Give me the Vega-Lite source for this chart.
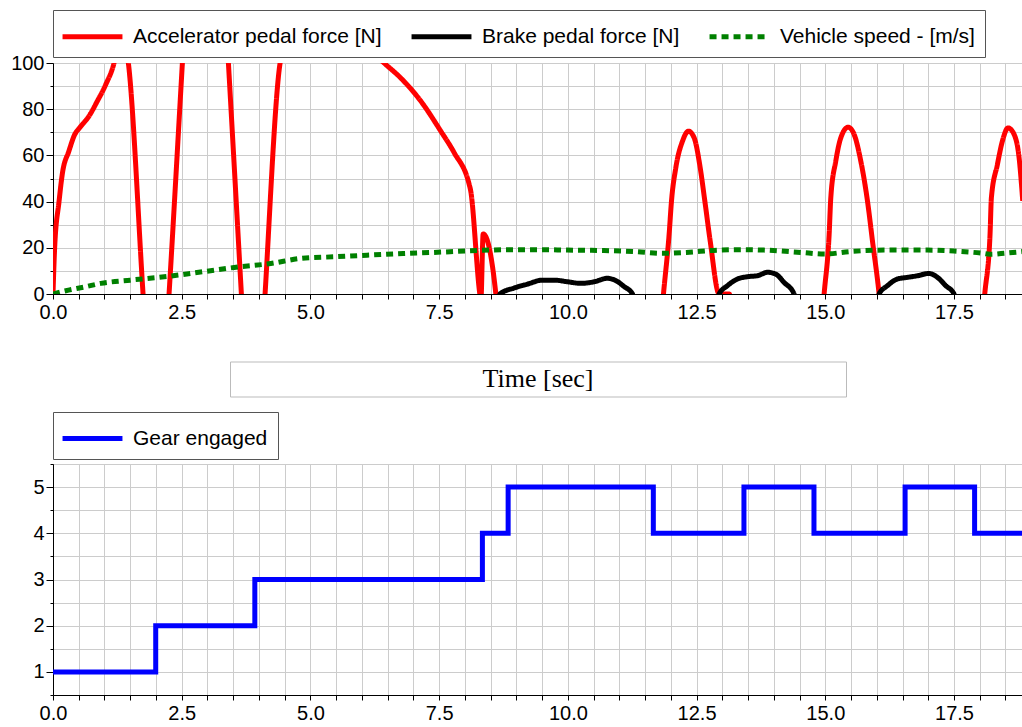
{
  "$schema": "https://vega.github.io/schema/vega-lite/v6.json",
  "autosize": {"type": "pad"},
  "padding": {"left": 10, "top": 9, "right": 0, "bottom": 4},
  "background": "white",
  "bounds": "flush",
  "spacing": 67.5,
  "center": true,
  "config": {
    "font": "Liberation Sans",
    "view": {"stroke": "#222222"},
    "axis": {
      "labelFont": "Liberation Sans",
      "labelFontSize": 20,
      "labelColor": "black",
      "domainColor": "black",
      "tickColor": "black",
      "gridColor": "#cccccc",
      "grid": true,
      "title": null,
      "labelOverlap": false,
      "labelFlush": false
    }
  },
  "resolve": {
    "scale": {"x": "independent", "y": "independent", "color": "independent", "strokeDash": "independent"},
    "legend": {"color": "independent", "strokeDash": "independent"}
  },
  "datasets": {
    "top": [
      {"series": "Accelerator pedal force [N]", "t": 0, "v": 0},
      {"series": "Accelerator pedal force [N]", "t": 0.032, "v": 20},
      {"series": "Accelerator pedal force [N]", "t": 0.117, "v": 40},
      {"series": "Accelerator pedal force [N]", "t": 0.181, "v": 52},
      {"series": "Accelerator pedal force [N]", "t": 0.311, "v": 62},
      {"series": "Accelerator pedal force [N]", "t": 0.421, "v": 69},
      {"series": "Accelerator pedal force [N]", "t": 0.518, "v": 72},
      {"series": "Accelerator pedal force [N]", "t": 0.699, "v": 77},
      {"series": "Accelerator pedal force [N]", "t": 0.861, "v": 83.5},
      {"series": "Accelerator pedal force [N]", "t": 1.023, "v": 90.6},
      {"series": "Accelerator pedal force [N]", "t": 1.185, "v": 100},
      {"series": "Accelerator pedal force [N]", "t": 1.32, "v": 115},
      {"series": "Accelerator pedal force [N]", "t": 1.464, "v": 100},
      {"series": "Accelerator pedal force [N]", "t": 1.749, "v": 0},
      {"series": "Accelerator pedal force [N]", "t": 2.0, "v": -88},
      {"series": "Accelerator pedal force [N]", "t": 2.254, "v": 0},
      {"series": "Accelerator pedal force [N]", "t": 2.513, "v": 100},
      {"series": "Accelerator pedal force [N]", "t": 2.96, "v": 270},
      {"series": "Accelerator pedal force [N]", "t": 3.407, "v": 100},
      {"series": "Accelerator pedal force [N]", "t": 3.659, "v": 0},
      {"series": "Accelerator pedal force [N]", "t": 3.89, "v": -92},
      {"series": "Accelerator pedal force [N]", "t": 4.119, "v": 0},
      {"series": "Accelerator pedal force [N]", "t": 4.411, "v": 100},
      {"series": "Accelerator pedal force [N]", "t": 5.4, "v": 170},
      {"series": "Accelerator pedal force [N]", "t": 6.1, "v": 107},
      {"series": "Accelerator pedal force [N]", "t": 6.431, "v": 100},
      {"series": "Accelerator pedal force [N]", "t": 6.755, "v": 93.5},
      {"series": "Accelerator pedal force [N]", "t": 7.144, "v": 83.5},
      {"series": "Accelerator pedal force [N]", "t": 7.532, "v": 70.5},
      {"series": "Accelerator pedal force [N]", "t": 7.791, "v": 61.2},
      {"series": "Accelerator pedal force [N]", "t": 8.083, "v": 47.5},
      {"series": "Accelerator pedal force [N]", "t": 8.11, "v": 45},
      {"series": "Accelerator pedal force [N]", "t": 8.29, "v": 0},
      {"series": "Accelerator pedal force [N]", "t": 8.31, "v": -3},
      {"series": "Accelerator pedal force [N]", "t": 8.355, "v": 26},
      {"series": "Accelerator pedal force [N]", "t": 8.601, "v": 0},
      {"series": "Accelerator pedal force [N]", "t": 8.7, "v": -40},
      {"series": "Accelerator pedal force [N]", "t": 11.7, "v": -40},
      {"series": "Accelerator pedal force [N]", "t": 11.857, "v": 0},
      {"series": "Accelerator pedal force [N]", "t": 11.967, "v": 25.9},
      {"series": "Accelerator pedal force [N]", "t": 12.013, "v": 40.3},
      {"series": "Accelerator pedal force [N]", "t": 12.097, "v": 54.7},
      {"series": "Accelerator pedal force [N]", "t": 12.227, "v": 66.2},
      {"series": "Accelerator pedal force [N]", "t": 12.343, "v": 70.5},
      {"series": "Accelerator pedal force [N]", "t": 12.453, "v": 67.6},
      {"series": "Accelerator pedal force [N]", "t": 12.57, "v": 54.7},
      {"series": "Accelerator pedal force [N]", "t": 12.66, "v": 40.3},
      {"series": "Accelerator pedal force [N]", "t": 12.764, "v": 23},
      {"series": "Accelerator pedal force [N]", "t": 12.939, "v": 0},
      {"series": "Accelerator pedal force [N]", "t": 13.14, "v": 0},
      {"series": "Accelerator pedal force [N]", "t": 13.2, "v": -30},
      {"series": "Accelerator pedal force [N]", "t": 14.85, "v": -33},
      {"series": "Accelerator pedal force [N]", "t": 14.977, "v": 0},
      {"series": "Accelerator pedal force [N]", "t": 15.075, "v": 25.9},
      {"series": "Accelerator pedal force [N]", "t": 15.107, "v": 41.7},
      {"series": "Accelerator pedal force [N]", "t": 15.204, "v": 57.6},
      {"series": "Accelerator pedal force [N]", "t": 15.301, "v": 67.6},
      {"series": "Accelerator pedal force [N]", "t": 15.443, "v": 72.2},
      {"series": "Accelerator pedal force [N]", "t": 15.56, "v": 69.1},
      {"series": "Accelerator pedal force [N]", "t": 15.689, "v": 57.6},
      {"series": "Accelerator pedal force [N]", "t": 15.819, "v": 40.3},
      {"series": "Accelerator pedal force [N]", "t": 15.916, "v": 23},
      {"series": "Accelerator pedal force [N]", "t": 16.045, "v": 0},
      {"series": "Accelerator pedal force [N]", "t": 16.2, "v": -40},
      {"series": "Accelerator pedal force [N]", "t": 17.95, "v": -35},
      {"series": "Accelerator pedal force [N]", "t": 18.097, "v": 0},
      {"series": "Accelerator pedal force [N]", "t": 18.2, "v": 25.9},
      {"series": "Accelerator pedal force [N]", "t": 18.226, "v": 41.7},
      {"series": "Accelerator pedal force [N]", "t": 18.343, "v": 56.1},
      {"series": "Accelerator pedal force [N]", "t": 18.44, "v": 66.2},
      {"series": "Accelerator pedal force [N]", "t": 18.55, "v": 71.9},
      {"series": "Accelerator pedal force [N]", "t": 18.667, "v": 69.1},
      {"series": "Accelerator pedal force [N]", "t": 18.764, "v": 59},
      {"series": "Accelerator pedal force [N]", "t": 18.835, "v": 40.3},
      {"series": "Brake pedal force [N]", "t": 8.64, "v": -30},
      {"series": "Brake pedal force [N]", "t": 8.68, "v": 0},
      {"series": "Brake pedal force [N]", "t": 8.957, "v": 2.6},
      {"series": "Brake pedal force [N]", "t": 9.217, "v": 4.3},
      {"series": "Brake pedal force [N]", "t": 9.508, "v": 6.0},
      {"series": "Brake pedal force [N]", "t": 9.734, "v": 6.0},
      {"series": "Brake pedal force [N]", "t": 9.994, "v": 5.3},
      {"series": "Brake pedal force [N]", "t": 10.252, "v": 4.6},
      {"series": "Brake pedal force [N]", "t": 10.511, "v": 5.3},
      {"series": "Brake pedal force [N]", "t": 10.77, "v": 6.8},
      {"series": "Brake pedal force [N]", "t": 10.932, "v": 5.8},
      {"series": "Brake pedal force [N]", "t": 11.094, "v": 3.2},
      {"series": "Brake pedal force [N]", "t": 11.256, "v": 0},
      {"series": "Brake pedal force [N]", "t": 11.3, "v": -30},
      {"series": "Brake pedal force [N]", "t": 12.9, "v": -30},
      {"series": "Brake pedal force [N]", "t": 12.939, "v": 0},
      {"series": "Brake pedal force [N]", "t": 13.1, "v": 3.6},
      {"series": "Brake pedal force [N]", "t": 13.295, "v": 6.5},
      {"series": "Brake pedal force [N]", "t": 13.489, "v": 7.5},
      {"series": "Brake pedal force [N]", "t": 13.683, "v": 7.9},
      {"series": "Brake pedal force [N]", "t": 13.877, "v": 9.4},
      {"series": "Brake pedal force [N]", "t": 14.039, "v": 8.6},
      {"series": "Brake pedal force [N]", "t": 14.2, "v": 5.0},
      {"series": "Brake pedal force [N]", "t": 14.394, "v": 0},
      {"series": "Brake pedal force [N]", "t": 14.44, "v": -30},
      {"series": "Brake pedal force [N]", "t": 16.0, "v": -30},
      {"series": "Brake pedal force [N]", "t": 16.045, "v": 0},
      {"series": "Brake pedal force [N]", "t": 16.207, "v": 3.6},
      {"series": "Brake pedal force [N]", "t": 16.401, "v": 6.5},
      {"series": "Brake pedal force [N]", "t": 16.596, "v": 7.2},
      {"series": "Brake pedal force [N]", "t": 16.79, "v": 7.9},
      {"series": "Brake pedal force [N]", "t": 17.016, "v": 8.9},
      {"series": "Brake pedal force [N]", "t": 17.178, "v": 7.2},
      {"series": "Brake pedal force [N]", "t": 17.34, "v": 3.6},
      {"series": "Brake pedal force [N]", "t": 17.501, "v": 0},
      {"series": "Brake pedal force [N]", "t": 17.55, "v": -30},
      {"series": "Brake pedal force [N]", "t": 18.84, "v": -30},
      {"series": "Vehicle speed - [m/s]", "t": 0, "v": 0},
      {"series": "Vehicle speed - [m/s]", "t": 0.25, "v": 1.4},
      {"series": "Vehicle speed - [m/s]", "t": 0.6, "v": 3},
      {"series": "Vehicle speed - [m/s]", "t": 0.93, "v": 4.6},
      {"series": "Vehicle speed - [m/s]", "t": 1.5, "v": 6},
      {"series": "Vehicle speed - [m/s]", "t": 2.22, "v": 7.6},
      {"series": "Vehicle speed - [m/s]", "t": 2.9, "v": 9.6},
      {"series": "Vehicle speed - [m/s]", "t": 3.52, "v": 11.5},
      {"series": "Vehicle speed - [m/s]", "t": 4.23, "v": 13.2},
      {"series": "Vehicle speed - [m/s]", "t": 4.81, "v": 15.4},
      {"series": "Vehicle speed - [m/s]", "t": 5.46, "v": 16.1},
      {"series": "Vehicle speed - [m/s]", "t": 6.1, "v": 16.8},
      {"series": "Vehicle speed - [m/s]", "t": 6.8, "v": 17.5},
      {"series": "Vehicle speed - [m/s]", "t": 7.4, "v": 18},
      {"series": "Vehicle speed - [m/s]", "t": 8.1, "v": 18.7},
      {"series": "Vehicle speed - [m/s]", "t": 8.9, "v": 19.2},
      {"series": "Vehicle speed - [m/s]", "t": 9.5, "v": 19.2},
      {"series": "Vehicle speed - [m/s]", "t": 9.99, "v": 19},
      {"series": "Vehicle speed - [m/s]", "t": 10.7, "v": 18.8},
      {"series": "Vehicle speed - [m/s]", "t": 11.28, "v": 18.4},
      {"series": "Vehicle speed - [m/s]", "t": 11.86, "v": 17.6},
      {"series": "Vehicle speed - [m/s]", "t": 12.3, "v": 18},
      {"series": "Vehicle speed - [m/s]", "t": 12.91, "v": 19},
      {"series": "Vehicle speed - [m/s]", "t": 13.4, "v": 19.2},
      {"series": "Vehicle speed - [m/s]", "t": 13.81, "v": 19},
      {"series": "Vehicle speed - [m/s]", "t": 14.52, "v": 18},
      {"series": "Vehicle speed - [m/s]", "t": 14.98, "v": 17.3},
      {"series": "Vehicle speed - [m/s]", "t": 15.5, "v": 18.4},
      {"series": "Vehicle speed - [m/s]", "t": 16.14, "v": 19},
      {"series": "Vehicle speed - [m/s]", "t": 16.98, "v": 19},
      {"series": "Vehicle speed - [m/s]", "t": 17.5, "v": 18.6},
      {"series": "Vehicle speed - [m/s]", "t": 18.02, "v": 17.7},
      {"series": "Vehicle speed - [m/s]", "t": 18.2, "v": 17.2},
      {"series": "Vehicle speed - [m/s]", "t": 18.5, "v": 17.7},
      {"series": "Vehicle speed - [m/s]", "t": 18.84, "v": 18.4}
    ],
    "gear": [
      {"series": "Gear engaged", "t": 0, "gear": 1},
      {"series": "Gear engaged", "t": 1.995, "gear": 2},
      {"series": "Gear engaged", "t": 3.92, "gear": 3},
      {"series": "Gear engaged", "t": 8.34, "gear": 4},
      {"series": "Gear engaged", "t": 8.84, "gear": 5},
      {"series": "Gear engaged", "t": 11.66, "gear": 4},
      {"series": "Gear engaged", "t": 13.42, "gear": 5},
      {"series": "Gear engaged", "t": 14.78, "gear": 4},
      {"series": "Gear engaged", "t": 16.55, "gear": 5},
      {"series": "Gear engaged", "t": 17.9, "gear": 4},
      {"series": "Gear engaged", "t": 18.84, "gear": 4}
    ],
    "label": [{"label": "Time [sec]"}]
  },
  "vconcat": [
    {
      "width": 970,
      "height": 231,
      "data": {"name": "top"},
      "mark": {"type": "line", "clip": true, "strokeWidth": 5, "interpolate": "monotone"},
      "encoding": {
        "x": {
          "field": "t", "type": "quantitative",
          "scale": {"domain": [0, 18.84], "nice": false, "zero": false},
          "axis": {
            "values": [0,0.5,1,1.5,2,2.5,3,3.5,4,4.5,5,5.5,6,6.5,7,7.5,8,8.5,9,9.5,10,10.5,11,11.5,12,12.5,13,13.5,14,14.5,15,15.5,16,16.5,17,17.5,18,18.5],
            "labelExpr": "datum.value % 2.5 === 0 ? format(datum.value, '.1f') : ''",
            "tickSize": 5, "labelPadding": 3
          }
        },
        "y": {
          "field": "v", "type": "quantitative",
          "scale": {"domain": [0, 100], "nice": false},
          "axis": {
            "values": [0,10,20,30,40,50,60,70,80,90,100],
            "labelExpr": "datum.value % 20 === 0 ? datum.value : ''",
            "tickSize": {"condition": {"test": "datum.value % 20 === 0", "value": 7}, "value": 3},
            "labelPadding": 2
          }
        },
        "color": {
          "field": "series", "type": "nominal",
          "scale": {"domain": ["Accelerator pedal force [N]", "Brake pedal force [N]", "Vehicle speed - [m/s]"], "range": ["#ff0000", "#000000", "#008000"]},
          "legend": {
            "title": null, "orient": "none", "legendX": 0, "legendY": -53,
            "direction": "horizontal", "columns": 3, "padding": 10,
            "strokeColor": "#555555", "fillColor": "white",
            "symbolType": "M-2.14,0H2.14", "symbolSize": 784, "symbolStrokeWidth": 5, "symbolOffset": 13,
            "labelFont": "Liberation Sans", "labelFontSize": 21, "labelColor": "black",
            "labelOffset": 24, "labelLimit": 400, "columnPadding": 19
          }
        },
        "strokeDash": {
          "field": "series", "type": "nominal",
          "scale": {"domain": ["Accelerator pedal force [N]", "Brake pedal force [N]", "Vehicle speed - [m/s]"], "range": [[1, 0], [1, 0], [7, 5]]},
          "legend": {
            "title": null, "orient": "none", "legendX": 0, "legendY": -53,
            "direction": "horizontal", "columns": 3, "padding": 10,
            "strokeColor": "#555555", "fillColor": "white",
            "symbolType": "M-2.14,0H2.14", "symbolSize": 784, "symbolStrokeWidth": 5, "symbolOffset": 13,
            "labelFont": "Liberation Sans", "labelFontSize": 21, "labelColor": "black",
            "labelOffset": 24, "labelLimit": 400, "columnPadding": 19
          }
        }
      }
    },
    {
      "width": 616,
      "height": 35,
      "view": {"stroke": "#bbbbbb"},
      "data": {"name": "label"},
      "mark": {"type": "text", "font": "Liberation Serif", "fontSize": 26, "color": "black", "align": "center", "baseline": "middle"},
      "encoding": {"text": {"field": "label", "type": "nominal"}}
    },
    {
      "width": 970,
      "height": 231,
      "data": {"name": "gear"},
      "mark": {"type": "line", "interpolate": "step-after", "strokeWidth": 5, "clip": true},
      "encoding": {
        "x": {
          "field": "t", "type": "quantitative",
          "scale": {"domain": [0, 18.84], "nice": false, "zero": false},
          "axis": {
            "values": [0,0.5,1,1.5,2,2.5,3,3.5,4,4.5,5,5.5,6,6.5,7,7.5,8,8.5,9,9.5,10,10.5,11,11.5,12,12.5,13,13.5,14,14.5,15,15.5,16,16.5,17,17.5,18,18.5],
            "labelExpr": "datum.value % 2.5 === 0 ? format(datum.value, '.1f') : ''",
            "tickSize": 5, "labelPadding": 3
          }
        },
        "y": {
          "field": "gear", "type": "quantitative",
          "scale": {"domain": [0.5, 5.5], "nice": false, "zero": false},
          "axis": {
            "values": [0.5,1,1.5,2,2.5,3,3.5,4,4.5,5,5.5],
            "labelExpr": "datum.value % 1 === 0 ? datum.value : ''",
            "tickSize": {"condition": {"test": "datum.value % 1 === 0", "value": 7}, "value": 3},
            "labelPadding": 2
          }
        },
        "color": {
          "field": "series", "type": "nominal",
          "scale": {"domain": ["Gear engaged"], "range": ["#0000ff"]},
          "legend": {
            "title": null, "orient": "none", "legendX": 0, "legendY": -52,
            "direction": "horizontal", "padding": 10,
            "strokeColor": "#555555", "fillColor": "white",
            "symbolType": "M-2.14,0H2.14", "symbolSize": 784, "symbolStrokeWidth": 5, "symbolOffset": 13,
            "labelFont": "Liberation Sans", "labelFontSize": 21, "labelColor": "black",
            "labelOffset": 24, "labelLimit": 400
          }
        }
      }
    }
  ]
}
